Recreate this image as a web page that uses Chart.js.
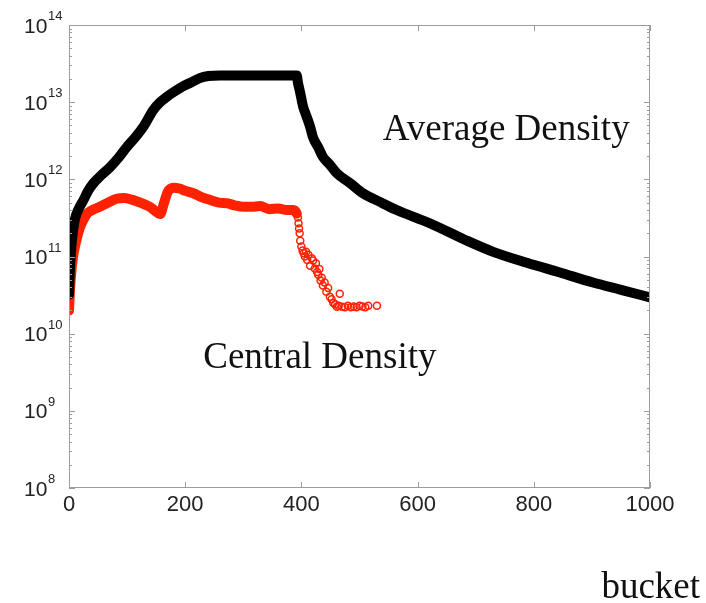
<!DOCTYPE html>
<html>
<head>
<meta charset="utf-8">
<script src="https://cdn.jsdelivr.net/npm/chart.js@4.4.1/dist/chart.umd.min.js"></script>
<style>
  html, body { margin: 0; padding: 0; background: #fff; }
  #wrap { width: 706px; height: 603px; }
</style>
</head>
<body>
<div id="wrap"><canvas id="densidade" width="706" height="603"></canvas></div>
<script>
// average density per bucket (black)
const avgBuckets = [0, 2, 5, 10, 17, 25, 33, 42, 55, 71, 85, 99, 114, 128, 145, 157, 168, 182, 196, 210,
  225, 240, 260, 300, 340, 380, 392, 394, 398, 403, 409, 415, 420, 429, 437, 449, 461, 484, 506, 535,
  564, 621, 685, 730, 788, 845, 902, 950, 1000];
const avgDensity = [3.2e10, 8e10, 1.6e11, 3.0e11, 4.2e11, 5.4e11, 7.1e11, 8.9e11, 1.12e12, 1.45e12,
  1.9e12, 2.6e12, 3.5e12, 4.8e12, 7.9e12, 1.0e13, 1.17e13, 1.38e13, 1.6e13, 1.8e13,
  2.05e13, 2.18e13, 2.22e13, 2.22e13, 2.22e13, 2.22e13, 2.22e13, 1.8e13, 1.32e13, 8.7e12,
  6.5e12, 4.8e12, 3.5e12, 2.6e12, 1.95e12, 1.55e12, 1.2e12, 8.9e11, 6.6e11, 5.1e11,
  4.0e11, 2.7e11, 1.6e11, 1.15e11, 8.3e10, 6.2e10, 4.6e10, 3.7e10, 2.95e10];

// central density per bucket (red)
const cenBuckets = [0, 2, 4, 7, 10, 14, 19, 25, 31, 40, 53, 65, 82, 95, 110, 125, 139, 150, 157, 163,
  170, 180, 190, 200, 214, 228, 243, 258, 272, 285, 300, 315, 329, 345, 360, 375, 386, 392, 394, 395,
  396, 397, 398, 400, 402, 404, 406, 408, 410, 412, 415, 418, 420, 423, 425, 427, 429, 431, 433, 435,
  437, 440, 443, 446, 449, 452, 455, 458, 461, 464, 466, 470, 475, 480, 485, 490, 495, 500, 505, 510,
  515, 530];
const cenDensity = [2.0e10, 4.0e10, 6.3e10, 1.0e11, 1.32e11, 1.78e11, 2.4e11, 3.0e11, 3.6e11, 4.0e11,
  4.4e11, 4.9e11, 5.6e11, 5.75e11, 5.4e11, 4.9e11, 4.4e11, 3.8e11, 3.55e11, 4.8e11,
  6.9e11, 7.8e11, 7.6e11, 7.1e11, 6.6e11, 5.9e11, 5.4e11, 5.0e11, 4.9e11, 4.6e11,
  4.4e11, 4.4e11, 4.5e11, 4.1e11, 4.2e11, 4.0e11, 4.0e11, 3.6e11, 3.2e11, 2.7e11,
  2.3e11, 2.0e11, 1.6e11, 1.35e11, 1.2e11, 1.1e11, 1.0e11, 1.15e11, 9.0e10, 1.05e11,
  7.6e10, 9.5e10, 8.9e10, 7.0e10, 8.2e10, 6.3e10, 5.8e10, 6.9e10, 4.9e10, 5.3e10,
  4.2e10, 4.6e10, 3.5e10, 3.9e10, 3.0e10, 2.8e10, 2.5e10, 2.4e10, 2.24e10, 2.3e10,
  3.3e10, 2.24e10, 2.2e10, 2.3e10, 2.2e10, 2.25e10, 2.2e10, 2.3e10, 2.25e10, 2.2e10,
  2.3e10, 2.3e10];

const xTicks = [0, 200, 400, 600, 800, 1000];
const yExpoentes = [8, 9, 10, 11, 12, 13, 14];

// text labels placed in data coordinates
const rotulos = [
  { texto: "Average Density", x: 540, y: 3.2e12 },
  { texto: "Central Density", x: 231, y: 3.6e9 },
];

const VERMELHO = "#ff2200";
const FONTE_SANS = "'Liberation Sans', Arial, sans-serif";
const FONTE_SERIF = "'Liberation Serif', 'Times New Roman', serif";

const pares = (xs, ys) => xs.map((x, i) => ({ x, y: ys[i] }));

// frame, inside ticks, log labels with superscripts and annotations
const molduraPlugin = {
  id: "moldura",
  afterDraw(chart) {
    const { ctx, chartArea: a, scales } = chart;
    const sx = scales.x;
    const sy = scales.y;
    ctx.save();

    ctx.strokeStyle = "#9c9c9c";
    ctx.lineWidth = 1;
    ctx.strokeRect(Math.round(a.left) + 0.5, Math.round(a.top) + 0.5,
      Math.round(a.width) - 1, Math.round(a.height) - 1);

    ctx.beginPath();
    xTicks.forEach((v) => {
      const px = Math.round(sx.getPixelForValue(v)) + 0.5;
      ctx.moveTo(px, a.bottom); ctx.lineTo(px, a.bottom - 6);
      ctx.moveTo(px, a.top); ctx.lineTo(px, a.top + 6);
    });
    yExpoentes.forEach((e) => {
      const py = Math.round(sy.getPixelForValue(Math.pow(10, e))) + 0.5;
      ctx.moveTo(a.left, py); ctx.lineTo(a.left + 6, py);
      ctx.moveTo(a.right, py); ctx.lineTo(a.right - 6, py);
      if (e === 14) return;
      for (let m = 2; m <= 9; m++) {
        const pm = Math.round(sy.getPixelForValue(m * Math.pow(10, e))) + 0.5;
        ctx.moveTo(a.left, pm); ctx.lineTo(a.left + 3, pm);
        ctx.moveTo(a.right, pm); ctx.lineTo(a.right - 3, pm);
      }
    });
    ctx.stroke();

    ctx.fillStyle = "#222";
    ctx.textAlign = "left";
    ctx.textBaseline = "alphabetic";
    yExpoentes.forEach((e) => {
      const py = sy.getPixelForValue(Math.pow(10, e));
      ctx.font = "21px " + FONTE_SANS;
      ctx.fillText("10", 24, py + 7.5);
      ctx.font = "13px " + FONTE_SANS;
      ctx.fillText(String(e), 48, py - 5);
    });

    ctx.fillStyle = "#111";
    ctx.font = "37px " + FONTE_SERIF;
    rotulos.forEach((r) => {
      ctx.fillText(r.texto, sx.getPixelForValue(r.x), sy.getPixelForValue(r.y));
    });
    ctx.textAlign = "right";
    ctx.fillText("bucket", chart.width - 6, chart.height - 5);

    ctx.restore();
  },
};

const ctx = document.getElementById("densidade").getContext("2d");
new Chart(ctx, {
  type: "scatter",
  data: {
    datasets: [
      {
        label: "Average Density",
        data: pares(avgBuckets, avgDensity),
        showLine: true,
        cubicInterpolationMode: "monotone",
        borderColor: "#000",
        borderWidth: 10,
        borderCapStyle: "round",
        borderJoinStyle: "round",
        pointRadius: 3.5,
        pointBorderWidth: 1.3,
        pointBorderColor: "#000",
        pointBackgroundColor: "rgba(0,0,0,0)",
      },
      {
        label: "Central Density",
        data: pares(cenBuckets, cenDensity),
        showLine: true,
        cubicInterpolationMode: "monotone",
        borderColor: VERMELHO,
        borderWidth: 10,
        borderCapStyle: "round",
        borderJoinStyle: "round",
        pointRadius: 3.5,
        pointBorderWidth: 1.5,
        pointBorderColor: VERMELHO,
        pointBackgroundColor: "rgba(0,0,0,0)",
        segment: {
          borderColor: (c) => (c.p0.parsed.x >= 392 ? "rgba(0,0,0,0)" : VERMELHO),
        },
      },
    ],
  },
  options: {
    responsive: false,
    animation: false,
    devicePixelRatio: 1,
    layout: { padding: { top: 25, right: 56, left: 0, bottom: 0 } },
    plugins: {
      legend: { display: false },
      tooltip: { enabled: false },
    },
    scales: {
      x: {
        type: "linear",
        min: 0,
        max: 1000,
        ticks: {
          stepSize: 200,
          color: "#222",
          padding: 4,
          maxRotation: 0,
          font: { family: FONTE_SANS, size: 22 },
          callback: (v) => String(v),
        },
        grid: { display: false, drawTicks: false },
        border: { display: false },
        afterFit: (s) => { s.height = 115; },
      },
      y: {
        type: "logarithmic",
        min: 1e8,
        max: 1e14,
        ticks: { display: false },
        grid: { display: false, drawTicks: false },
        border: { display: false },
        afterFit: (s) => { s.width = 69; },
      },
    },
  },
  plugins: [molduraPlugin],
});
</script>
</body>
</html>
